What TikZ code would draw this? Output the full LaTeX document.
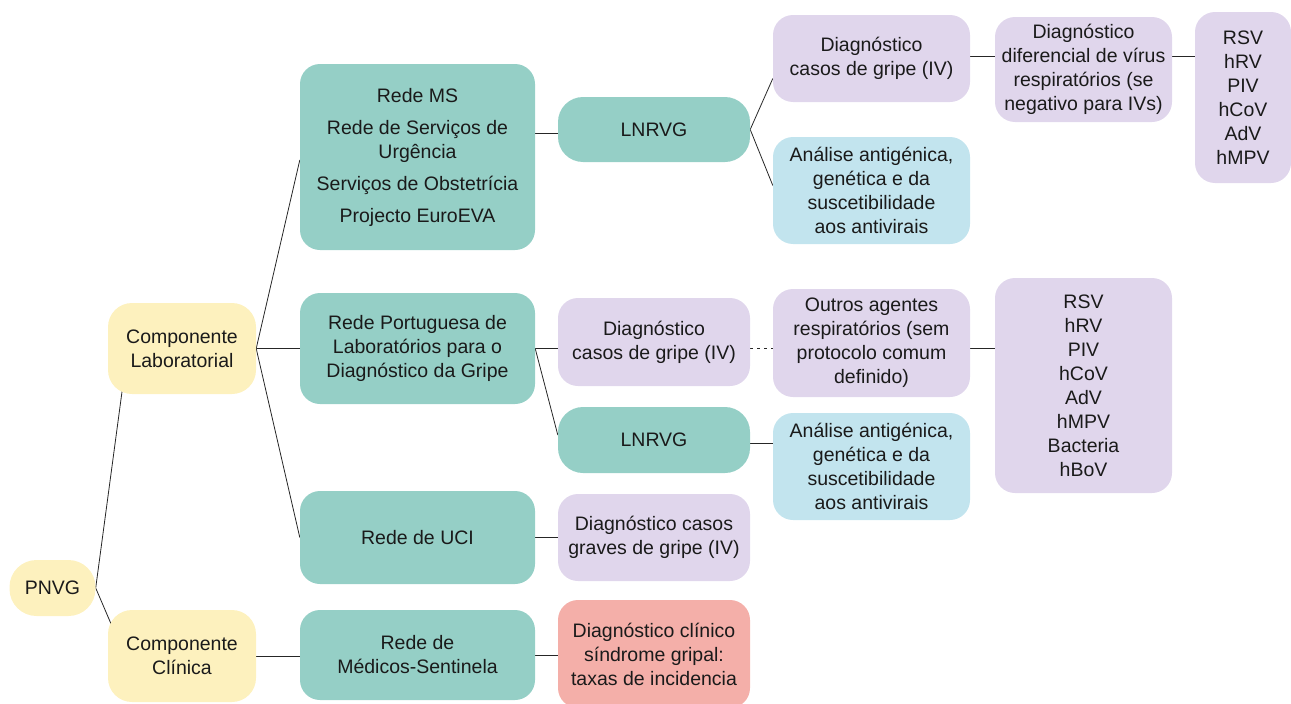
\documentclass[tikz,border=0pt]{standalone}
\usepackage{fontspec}
\setmainfont{Liberation Sans}
\usetikzlibrary{backgrounds}
\definecolor{cyel}{HTML}{FDF1BE}
\definecolor{cteal}{HTML}{95CFC6}
\definecolor{clav}{HTML}{E0D6EC}
\definecolor{cblue}{HTML}{C2E4EE}
\definecolor{csalm}{HTML}{F4AFA9}
\definecolor{ctext}{HTML}{1A1A1A}
\tikzset{
  box/.style={rectangle, rounded corners=20pt, inner sep=0pt, align=center,
    text=ctext, font=\fontsize{19.5pt}{24pt}\selectfont},
  yel/.style={box, fill=cyel, rounded corners=24pt},
  teal/.style={box, fill=cteal},
  lav/.style={box, fill=clav},
  lblue/.style={box, fill=cblue},
  salm/.style={box, fill=csalm},
  wire/.style={draw=black!85, line width=0.8pt},
  dotwire/.style={wire, dash pattern=on 3pt off 4pt},
}
\begin{document}
\begin{tikzpicture}[x=1pt,y=-1pt]
\useasboundingbox (0,0) rectangle (1291,704);
% nodes
\node[yel, rounded corners=27pt, minimum width=86pt, minimum height=56pt] (pnvg) at (52.5,588) {PNVG};
\node[yel, minimum width=148pt, minimum height=91pt] (clab) at (182,348.5) {Componente\\Laboratorial};
\node[yel, minimum width=148pt, minimum height=92pt] (cclin) at (182,656) {Componente\\Clínica};
\node[teal, minimum width=235pt, minimum height=186pt] (redems) at (417.5,157) {Rede MS\\[8pt]Rede de Serviços de\\Urgência\\[8pt]Serviços de Obstetrícia\\[8pt]Projecto EuroEVA};
\node[teal, minimum width=235pt, minimum height=111pt] (redept) at (417.5,348.5) {Rede Portuguesa de\\Laboratórios para o\\Diagnóstico da Gripe};
\node[teal, minimum width=235pt, minimum height=93pt] (redeuci) at (417.5,537.5) {Rede de UCI};
\node[teal, minimum width=235pt, minimum height=90pt] (redemed) at (417.5,655) {Rede de\\Médicos-Sentinela};
\node[teal, rounded corners=25pt, minimum width=192pt, minimum height=65pt] (lnrvga) at (654,129.5) {LNRVG};
\node[lav, minimum width=192pt, minimum height=88pt] (diagb) at (654,342) {Diagnóstico\\casos de gripe (IV)};
\node[teal, rounded corners=25pt, minimum width=192pt, minimum height=66pt] (lnrvgb) at (654,440) {LNRVG};
\node[lav, minimum width=192pt, minimum height=87pt] (diagg) at (654,537.5) {Diagnóstico casos\\graves de gripe (IV)};
\node[salm, minimum width=192pt, minimum height=108pt] (diagc) at (654,654) {Diagnóstico clínico\\síndrome gripal:\\taxas de incidencia};
\node[lav, minimum width=197pt, minimum height=87pt] (diaga) at (871.5,58.5) {Diagnóstico\\casos de gripe (IV)};
\node[lblue, minimum width=197pt, minimum height=107pt] (anaa) at (871.5,190.5) {Análise antigénica,\\genética e da\\suscetibilidade\\aos antivirais};
\node[lav, minimum width=197pt, minimum height=108pt] (outros) at (871.5,343) {Outros agentes\\respiratórios (sem\\protocolo comum\\definido)};
\node[lblue, minimum width=197pt, minimum height=107pt] (anab) at (871.5,466.5) {Análise antigénica,\\genética e da\\suscetibilidade\\aos antivirais};
\node[lav, minimum width=177pt, minimum height=105pt] (difer) at (1083.5,69.5) {Diagnóstico\\diferencial de vírus\\respiratórios (se\\negativo para IVs)};
\node[lav, minimum width=96pt, minimum height=171pt] (lista) at (1243,97.5) {RSV\\hRV\\PIV\\hCoV\\AdV\\hMPV};
\node[lav, minimum width=177pt, minimum height=215pt] (listb) at (1083.5,385.5) {RSV\\hRV\\PIV\\hCoV\\AdV\\hMPV\\Bacteria\\hBoV};
% connectors
\begin{scope}[on background layer]
\draw[wire] (pnvg.east) -- ([xshift=20pt]clab.west);
\draw[wire] (pnvg.east) -- ([xshift=17pt]cclin.west);
\draw[wire] (clab.east) -- ([yshift=-3pt]redems.west);
\draw[wire] (clab.east) -- (clab.east -| redept.west);
\draw[wire] (clab.east) -- (redeuci.west);
\draw[wire] (cclin.east) -- (cclin.east -| redemed.west);
\draw[wire] ([yshift=-4pt]lnrvga.west -| redems.east) -- ([yshift=-4pt]lnrvga.west);
\draw[wire] (redept.east) -- (redept.east -| diagb.west);
\draw[wire] (redept.east) -- ([yshift=5pt]lnrvgb.west);
\draw[wire] (redeuci.east) -- (redeuci.east -| diagg.west);
\draw[wire] (redemed.east) -- (redemed.east -| diagc.west);
\draw[wire] (lnrvga.east) -- ([yshift=-20pt]diaga.west);
\draw[wire] (lnrvga.east) -- ([yshift=5pt]anaa.west);
\draw[wire] ([yshift=2pt]diaga.east) -- ([yshift=2pt]diaga.east -| difer.west);
\draw[wire] ([yshift=2pt]diaga.east -| difer.east) -- ([yshift=2pt]diaga.east -| lista.west);
\draw[dotwire] (redept.east -| diagb.east) -- (redept.east -| outros.west);
\draw[wire] (redept.east -| outros.east) -- (redept.east -| listb.west);
\draw[wire] ([yshift=-3pt]lnrvgb.east) -- ([yshift=-3pt]lnrvgb.east -| anab.west);
\end{scope}
\end{tikzpicture}
\end{document}
